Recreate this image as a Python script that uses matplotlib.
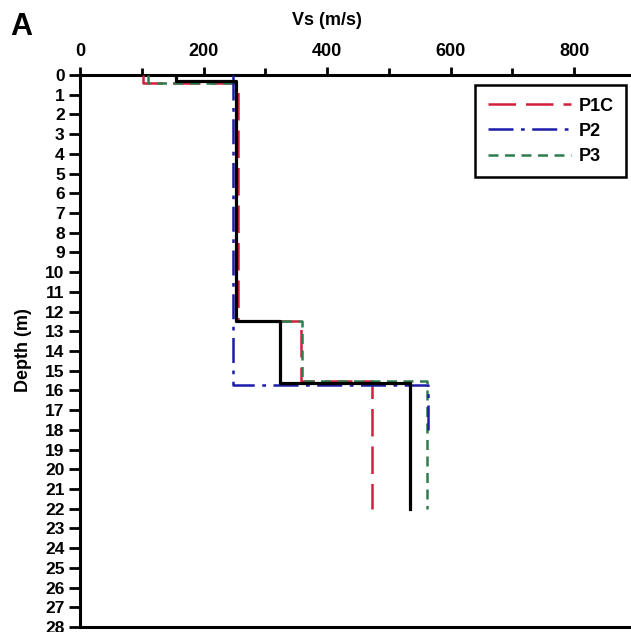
import numpy as np
import matplotlib
matplotlib.use("Agg")
import matplotlib.pyplot as plt

plt.rcParams['font.family'] = ['Liberation Sans', 'DejaVu Sans']

# Layer data: layer top/bottom depths (m) and Vs (m/s)
p1c_bounds = [0, 0.4, 12.5, 15.5, 22]
p1c_vs = [102, 256, 357, 473]
p2_bounds = [0, 15.7, 18.3]
p2_vs = [248, 564]
p3_bounds = [0, 0.4, 12.5, 15.5, 22]
p3_vs = [110, 252, 360, 561]
avg_bounds = [0, 0.3, 12.5, 15.6, 22]
avg_vs = [155, 253, 324, 535]

xticks = [0, 200, 400, 600, 800]
yticks = list(range(0, 29))


def step(bounds, vs):
    b = np.asarray(bounds, float)
    v = np.asarray(vs, float)
    x = np.repeat(v, 2)
    y = np.column_stack([b[:-1], b[1:]]).ravel()
    return x, y


fig = plt.figure(figsize=(6.31, 6.32), dpi=100)
ax = fig.add_axes([80 / 631, 5 / 632, 551 / 631, 552 / 632])

x, y = step(p1c_bounds, p1c_vs)
l1, = ax.plot(x, y, color='#d41f3c', lw=1.8, dashes=(11, 4), label='P1C', zorder=3)
x, y = step(p3_bounds, p3_vs)
l3, = ax.plot(x, y, color='#2f7d4e', lw=1.8, dashes=(4, 2.6), label='P3', zorder=3)
x, y = step(p2_bounds, p2_vs)
l2, = ax.plot(x, y, color='#1c1caa', lw=1.8, dashes=(10, 3, 1.5, 3), label='P2', zorder=4)
x, y = step(avg_bounds, avg_vs)
ax.plot(x, y, color='black', lw=2.3, zorder=5)

ax.set_xlim(0, 892)
ax.set_ylim(28, 0)
ax.xaxis.tick_top()
ax.xaxis.set_label_position('top')
ax.set_xticks(xticks)
ax.set_xticks([100, 300, 500, 700], minor=True)
ax.set_yticks(yticks)
ax.set_yticklabels([str(t) for t in yticks])
for lab in ax.get_xticklabels() + ax.get_yticklabels():
    lab.set_fontweight('bold')
ax.tick_params(axis='x', which='major', length=6, width=2, labelsize=13, pad=5)
ax.tick_params(axis='x', which='minor', length=5, width=2)
ax.tick_params(axis='y', which='major', length=8, width=2, labelsize=12.5, pad=3)
for s in ['top', 'left', 'bottom']:
    ax.spines[s].set_linewidth(2.2)
ax.spines['right'].set_visible(False)

ax.set_xlabel('Vs (m/s)', fontsize=13, fontweight='bold')
ax.xaxis.set_label_coords(400 / 892, (627 - 25) / 552)
ax.set_ylabel('Depth (m)', fontsize=13, fontweight='bold')
ax.yaxis.set_label_coords((32 - 80) / 551, (627 - 350) / 552)

leg = ax.legend(handles=[l1, l2, l3], loc='upper right', bbox_to_anchor=(0.991, 0.982),
                borderaxespad=0, fancybox=False, framealpha=1, edgecolor='black',
                handlelength=4.6, prop={'weight': 'bold', 'size': 13}, borderpad=0.7,
                labelspacing=0.45, handletextpad=0.4)
leg.get_frame().set_linewidth(1.8)

fig.text(10 / 631, 1 - 35 / 632, 'A', fontsize=22, fontweight='bold')

fig.savefig('out.png', dpi=100)
